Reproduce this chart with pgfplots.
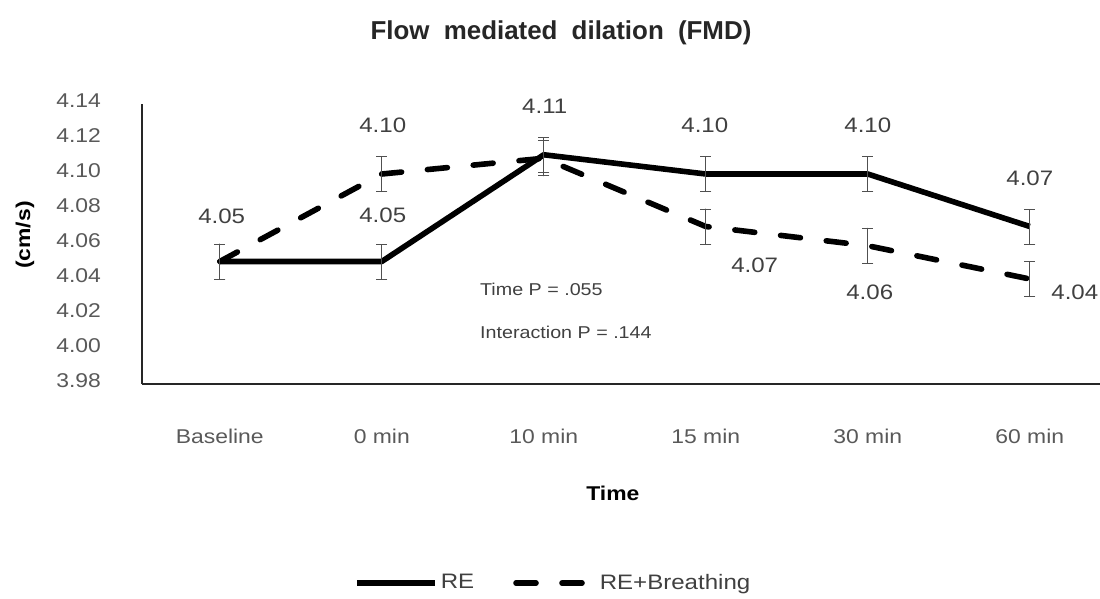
\documentclass[border=0pt]{standalone}
\usepackage{fontspec}
\setmainfont{Liberation Sans}[FakeStretch=1.15]
\newfontfamily\titlefont{Liberation Sans}
\usepackage{pgfplots}
\pgfplotsset{compat=1.18}
\definecolor{ticktxt}{HTML}{595959}
\definecolor{lbltxt}{HTML}{404040}
\definecolor{errc}{HTML}{505050}
\begin{document}
\begin{tikzpicture}
\begin{axis}[
  at={(0,0)}, anchor=south west,
  scale only axis, width=484.4bp, height=140bp,
  xmin=-0.48, xmax=5.5, ymin=3.98, ymax=4.14,
  axis x line*=bottom, axis y line*=left,
  x axis line style={-, line width=0.8bp, black!85},
  y axis line style={-, line width=0.6bp, black!85},
  major tick length=0pt,
  xtick={0,1,2,3,4,5},
  xticklabels={Baseline,0 min,10 min,15 min,30 min,60 min},
  ytick={3.98,4.00,4.02,4.04,4.06,4.08,4.10,4.12,4.14},
  yticklabel={\pgfmathprintnumber[fixed,fixed zerofill,precision=2]{\tick}},
  /pgf/number format/assume math mode=true,
  ticklabel style={font=\fontsize{10}{11}\selectfont, text=ticktxt},
  yticklabel style={anchor=base east, xshift=-17bp, yshift=-1.7bp},
  xticklabel style={anchor=base, yshift=-29.5bp},
  title={Flow\hspace{3.5bp} mediated\hspace{3.5bp} dilation\hspace{3.5bp} (FMD)},
  title style={at={(axis description cs:0.4325,1.2286)}, anchor=base, yshift=-6pt, font=\titlefont\fontsize{13}{15}\selectfont\bfseries, text=black!85},
  xlabel={Time},
  xlabel style={at={(axis description cs:0.486,-0.389)}, anchor=center, font=\fontsize{10}{11}\selectfont\bfseries},
  ylabel={(cm/s)},
  ylabel style={at={(axis description cs:-0.1208,0.532)}, anchor=center, font=\fontsize{10}{11}\selectfont\bfseries},
  clip=false,
  legend columns=2,
  legend style={draw=none, fill=none, at={(axis description cs:0.425,-0.711)}, anchor=center,
    font=\fontsize{10.5}{12}\selectfont, text=lbltxt, /tikz/every even column/.append style={column sep=18bp},
    nodes={inner sep=1.5bp}},
  legend image code/.code={\draw[#1] (0bp,0bp) -- (39bp,0bp);},
  error bars/error bar style={errc, line width=0.5bp, solid},
  error bars/error mark options={rotate=90, mark size=2.75bp, errc, line width=0.5bp, solid},
]
\addplot[black, line width=2.8bp, line join=round,
  error bars/.cd, y dir=both, y explicit]
  coordinates {(0,4.050) +- (0,0.01) (1,4.050) +- (0,0.01) (2,4.111) +- (0,0.01)
               (3,4.100) +- (0,0.01) (4,4.100) +- (0,0.01) (5,4.070) +- (0,0.01)};
\addlegendentry{RE}
\addplot[black, line width=2.8bp, line cap=round, dash pattern=on 10bp off 13bp,
  error bars/.cd, y dir=both, y explicit]
  coordinates {(0,4.050) +- (0,0.01) (1,4.100) +- (0,0.01) (2,4.109) +- (0,0.01)
               (3,4.070) +- (0,0.01) (4,4.059) +- (0,0.01) (5,4.040) +- (0,0.01)};
\addlegendentry{RE+Breathing}
\begin{scope}[every node/.style={font=\fontsize{10.5}{12}\selectfont, text=lbltxt, anchor=center, inner sep=0pt}]
\node at (axis cs:0.012,4.076) {4.05};
\node at (axis cs:1.006,4.128) {4.10};
\node at (axis cs:1.006,4.0766) {4.05};
\node at (axis cs:2.006,4.1389) {4.11};
\node at (axis cs:2.994,4.128) {4.10};
\node at (axis cs:3.302,4.048) {4.07};
\node at (axis cs:4.000,4.128) {4.10};
\node at (axis cs:4.012,4.0326) {4.06};
\node at (axis cs:5.000,4.0977) {4.07};
\node at (axis cs:5.278,4.0326) {4.04};
\end{scope}
\node[anchor=west, font=\fontsize{8.6}{10}\selectfont, text=lbltxt, inner sep=0pt] at (axis cs:1.605,4.0343) {Time P = .055};
\node[anchor=west, font=\fontsize{8.6}{10}\selectfont, text=lbltxt, inner sep=0pt] at (axis cs:1.605,4.0097) {Interaction P = .144};
\end{axis}
\pgfresetboundingbox
\useasboundingbox (-71bp,-107.5bp) rectangle (479bp,192bp);
\end{tikzpicture}
\end{document}
